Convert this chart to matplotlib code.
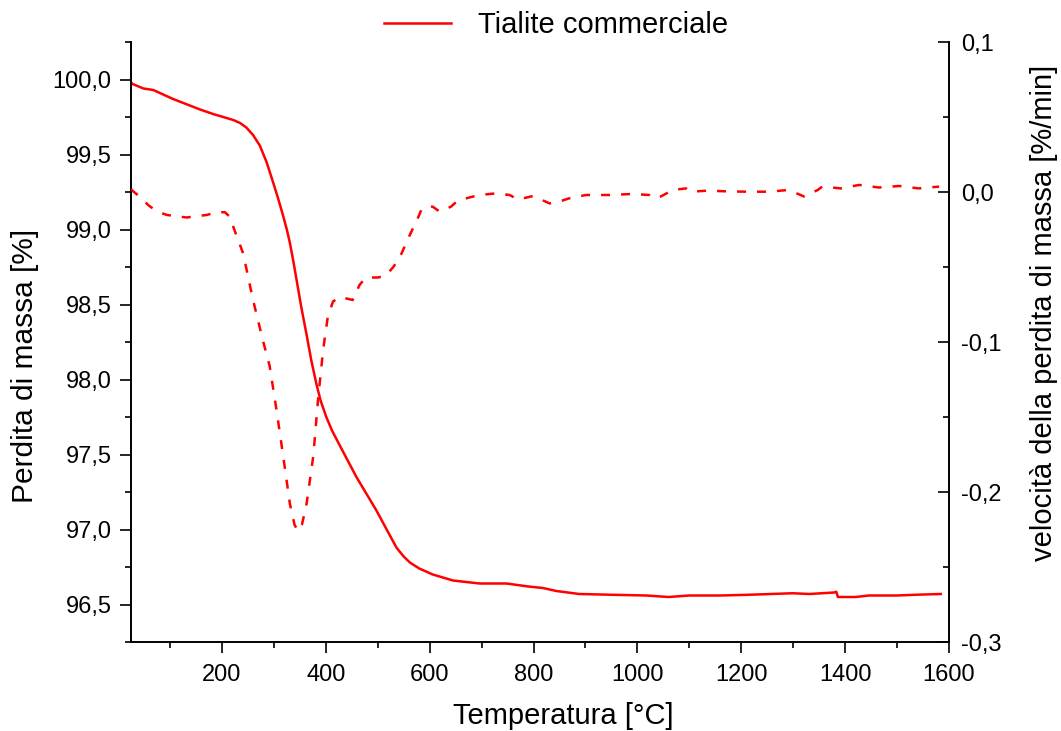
import matplotlib
matplotlib.use("Agg")
import matplotlib.pyplot as plt
from matplotlib.ticker import MultipleLocator, FuncFormatter
from matplotlib.lines import Line2D

plt.rcParams['font.family'] = ['Liberation Sans', 'DejaVu Sans']

# TG curve (left axis): temperature [°C] vs residual mass [%]
tg_temp = [25, 28, 49, 68, 106, 158, 183, 222, 235, 247, 260, 273, 286, 299,
           308, 318, 325, 331, 338, 344, 353, 363, 372, 382, 390, 401, 412,
           427, 459, 497, 536, 550, 562, 580, 606, 645, 696, 748, 790, 818,
           844, 888, 950, 1017, 1060, 1100, 1160, 1215, 1299, 1331, 1379,
           1383, 1386, 1420, 1446, 1500, 1536, 1584]
tg_mass = [99.98, 99.97, 99.94, 99.93, 99.87, 99.80, 99.77, 99.73, 99.71,
           99.68, 99.63, 99.56, 99.45, 99.31, 99.21, 99.09, 99.00, 98.91,
           98.78, 98.66, 98.48, 98.30, 98.13, 97.97, 97.86, 97.75, 97.66,
           97.56, 97.35, 97.13, 96.88, 96.82, 96.78, 96.74, 96.70, 96.66,
           96.64, 96.64, 96.62, 96.61, 96.59, 96.57, 96.565, 96.56, 96.55,
           96.56, 96.56, 96.565, 96.575, 96.57, 96.58, 96.585, 96.55, 96.55,
           96.56, 96.56, 96.565, 96.57]

# DTG curve (right axis): mass loss rate [%/min]
dtg_temp = [25, 29, 45, 58, 75, 94, 132, 171, 190, 206, 215, 228, 241, 260,
            279, 292, 305, 318, 331, 340, 347, 354, 363, 376, 385, 395, 404,
            414, 427, 440, 452, 465, 477, 500, 515, 530, 542, 560, 577, 584,
            595, 606, 619, 641, 654, 677, 696, 728, 754, 770, 799, 831, 844,
            869, 901, 946, 991, 1023, 1033, 1045, 1062, 1071, 1094, 1103,
            1135, 1174, 1212, 1254, 1289, 1299, 1321, 1347, 1356, 1392, 1427,
            1465, 1504, 1542, 1581]
dtg_rate = [0.002, 0.0005, -0.004, -0.0087, -0.013, -0.0153, -0.017, -0.0153,
            -0.0135, -0.0135, -0.0165, -0.029, -0.041, -0.072, -0.099, -0.116,
            -0.145, -0.176, -0.208, -0.222, -0.226, -0.222, -0.208, -0.176,
            -0.139, -0.105, -0.083, -0.073, -0.070, -0.071, -0.072, -0.062,
            -0.057, -0.057, -0.056, -0.050, -0.044, -0.030, -0.0176, -0.012,
            -0.0095, -0.0098, -0.013, -0.0098, -0.0058, -0.0036, -0.002,
            -0.0009, -0.002, -0.005, -0.0027, -0.0076, -0.007, -0.0042,
            -0.002, -0.002, -0.0013, -0.002, -0.0042, -0.003, 0.0002, 0.0015,
            0.0024, 0.0002, 0.0009, 0.0004, 0.0002, 0.0002, 0.0013, 0.0002,
            -0.003, 0.0013, 0.0036, 0.0024, 0.0047, 0.003, 0.004, 0.0024,
            0.0036]

legend_label = "Tialite commerciale"


def comma(v, pos):
    if abs(v) < 1e-9:
        v = 0.0
    return f"{v:.1f}".replace('.', ',')


fig = plt.figure(figsize=(10.61, 7.31), dpi=100)
ax = fig.add_axes([131 / 1061, 1 - 642 / 731, 818 / 1061, 600 / 731])
ax2 = ax.twinx()

red = '#ff0000'
ax.plot(tg_temp, tg_mass, color=red, lw=1.8)
ax2.plot(dtg_temp, dtg_rate, color=red, lw=1.8, dashes=(3.6, 4.4))

ax.set_xlim(25, 1600)
ax.set_ylim(96.25, 100.25)
ax2.set_ylim(-0.3, 0.1)

ax.xaxis.set_major_locator(MultipleLocator(200))
ax.xaxis.set_minor_locator(MultipleLocator(100))
ax.yaxis.set_major_locator(MultipleLocator(0.5))
ax.yaxis.set_minor_locator(MultipleLocator(0.25))
ax.yaxis.set_major_formatter(FuncFormatter(comma))
ax2.yaxis.set_major_locator(MultipleLocator(0.1))
ax2.yaxis.set_minor_locator(MultipleLocator(0.05))
ax2.yaxis.set_major_formatter(FuncFormatter(comma))

for a in (ax, ax2):
    a.spines['top'].set_visible(False)
    for s in a.spines.values():
        s.set_linewidth(1.4)
ax.spines['right'].set_visible(False)
ax2.spines['left'].set_visible(False)
ax2.spines['bottom'].set_visible(False)

ax.tick_params(axis='both', which='major', direction='out', length=8, width=1.2,
               labelsize=17, pad=6)
ax.tick_params(axis='both', which='minor', direction='out', length=4.5, width=1.2)
ax.tick_params(axis='x', which='major', pad=8)
ax2.tick_params(axis='y', which='major', direction='in', length=8, width=1.2,
                labelsize=17, pad=9)
ax2.tick_params(axis='y', which='minor', direction='in', length=4.5, width=1.2)

ax.set_xlabel("Temperatura [°C]", fontsize=21)
ax.xaxis.set_label_coords(0.528, -0.10)
ax.set_ylabel("Perdita di massa [%]", fontsize=21.5)
ax.yaxis.set_label_coords(-0.112, 0.46)
ax2.set_ylabel("velocità della perdita di massa [%/min]", fontsize=21)
ax2.yaxis.set_label_coords(1.099, 0.548)

handle = Line2D([], [], color=red, lw=1.8)
fig.legend([handle], [legend_label], loc='center',
           bbox_to_anchor=(556 / 1061, 1 - 25 / 731), frameon=False,
           fontsize=21, handlelength=2.3, handletextpad=0.9)

fig.savefig("out.png", dpi=100)
